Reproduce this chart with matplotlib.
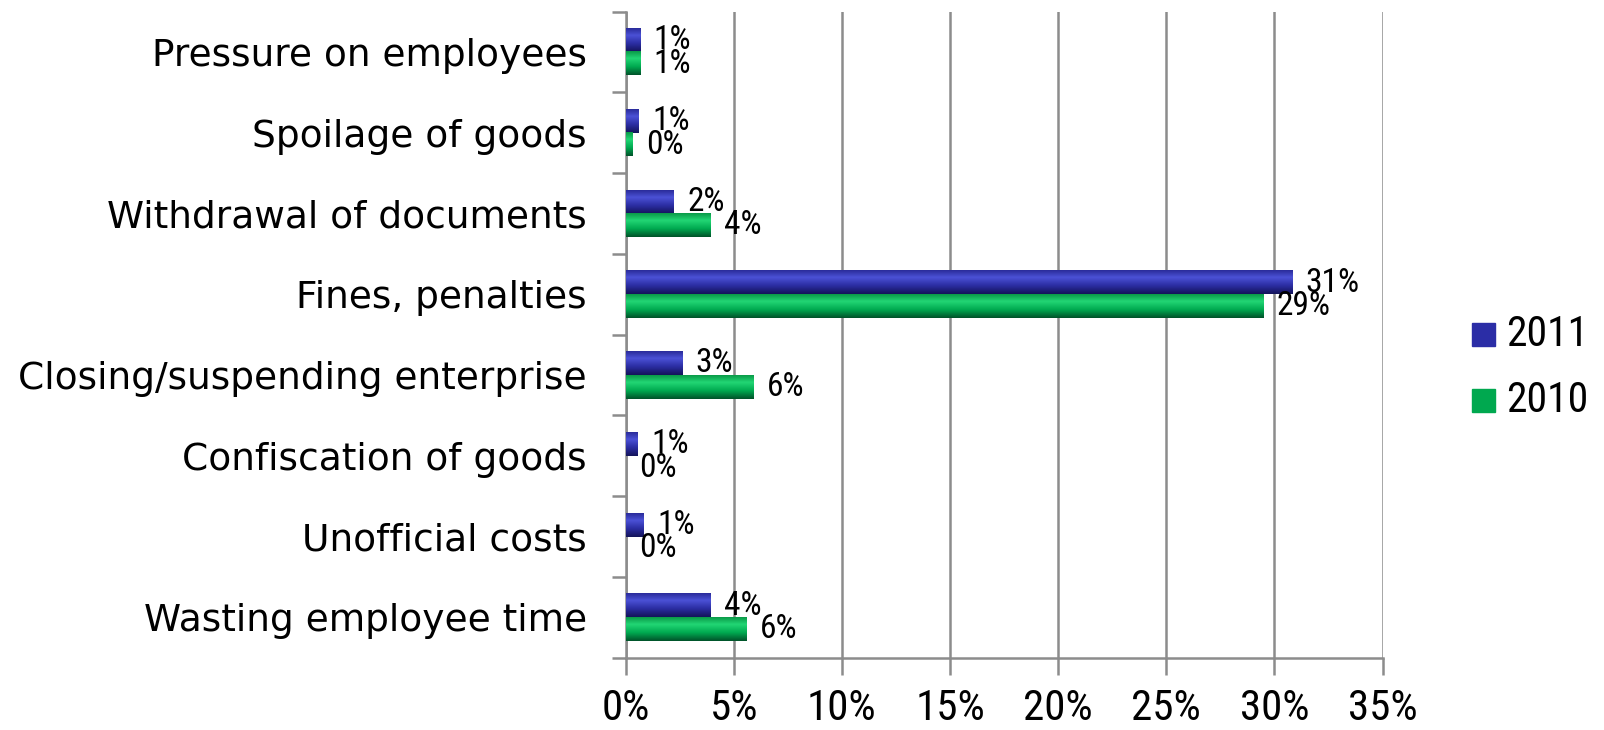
import numpy as np
import matplotlib
matplotlib.use("Agg")
import matplotlib.pyplot as plt
from matplotlib import font_manager as fm
from matplotlib.colors import LinearSegmentedColormap
from matplotlib.patches import Rectangle

categories = [
    "Pressure on employees",
    "Spoilage of goods",
    "Withdrawal of documents",
    "Fines, penalties",
    "Closing/suspending enterprise",
    "Confiscation of goods",
    "Unofficial costs",
    "Wasting employee time",
]
vals_2011 = [0.65, 0.6, 2.2, 30.8, 2.6, 0.55, 0.83, 3.9]
vals_2010 = [0.65, 0.3, 3.9, 29.45, 5.9, 0.0, 0.0, 5.55]
x_ticks = [0, 5, 10, 15, 20, 25, 30, 35]
series_names = ["2011", "2010"]
series_colors = ["#2b2da6", "#00a84f"]

# pick a condensed face for the numbers if one is installed
fonts = fm.fontManager.ttflist
names = {f.name for f in fonts}
narrow = {"family": ["DejaVu Sans"]}
condensed_ok = False
for cand in ["Liberation Sans Narrow", "Roboto Condensed", "Open Sans Condensed"]:
    if cand in names:
        narrow = {"family": [cand, "DejaVu Sans"]}
        condensed_ok = True
        break
else:
    if any(f.name == "DejaVu Sans" and f.stretch == "condensed" for f in fonts):
        narrow = {"family": ["DejaVu Sans"], "fontstretch": "condensed"}
        condensed_ok = True

blue_cmap = LinearSegmentedColormap.from_list(
    "blue_bar", [(0, "#2a2c9a"), (0.3, "#4b51d6"), (0.65, "#2b2da2"), (1, "#14145a")])
green_cmap = LinearSegmentedColormap.from_list(
    "green_bar", [(0, "#0a9a48"), (0.3, "#22d674"), (0.65, "#00aa50"), (1, "#00532a")])

W, H = 1604, 730
fig = plt.figure(figsize=(W / 100, H / 100), dpi=100)
ax = fig.add_axes([0.390, 0.099, 0.472, 0.885])

n = len(categories)
pos = np.arange(n)[::-1].astype(float)
h = 0.29

gradient = np.linspace(0, 1, 64).reshape(-1, 1)
label_size = 24 if condensed_ok else 19


def draw_series(values, offset, cmap, color):
    bars = ax.barh(pos + offset, values, height=h, color=color, zorder=2)
    for b, v in zip(bars, values):
        if v > 0:
            x0, y0 = b.get_x(), b.get_y()
            ax.imshow(gradient, cmap=cmap, aspect="auto", origin="upper",
                      extent=(x0, x0 + b.get_width(), y0, y0 + b.get_height()),
                      zorder=3, interpolation="bilinear")
        ax.annotate(f"{v:.0f}%", (v, b.get_y() + b.get_height() / 2),
                    xytext=(10, 0), textcoords="offset points",
                    ha="left", va="center", fontsize=label_size, zorder=4, **narrow)


draw_series(vals_2011, h / 2, blue_cmap, "#2b2da2")
draw_series(vals_2010, -h / 2, green_cmap, "#00aa50")

ax.set_xlim(0, 35)
ax.set_ylim(-0.5, n - 0.5)
ax.set_xticks(x_ticks)
ax.set_xticklabels([f"{t}%" for t in x_ticks], fontsize=31 if condensed_ok else 24, **narrow)
ax.set_yticks(pos)
ax.set_yticklabels(categories, fontsize=27)
ax.set_yticks(np.arange(n + 1) - 0.5, minor=True)

ax.grid(axis="x", color="#8c8c8c", linewidth=1.8, zorder=0)
ax.set_axisbelow(True)
for s in ["top", "right"]:
    ax.spines[s].set_visible(False)
for s in ["left", "bottom"]:
    ax.spines[s].set_color("#8c8c8c")
    ax.spines[s].set_linewidth(1.8)

ax.tick_params(axis="y", which="major", length=0, pad=28)
ax.tick_params(axis="y", which="minor", length=10, width=1.8, color="#8c8c8c")
ax.tick_params(axis="x", length=12, width=1.8, color="#8c8c8c", pad=10)

# legend keys drawn as squares with their labels to the right
key = 23
for i, (name, col) in enumerate(zip(series_names, series_colors)):
    cy = 334 + i * 66
    fig.patches.append(Rectangle(((1472) / W, 1 - (cy + key / 2) / H), key / W, key / H,
                                 transform=fig.transFigure, color=col))
    fig.text(1506 / W, 1 - cy / H, name, ha="left", va="center",
             fontsize=30 if condensed_ok else 20, **narrow)

fig.savefig("out.png", dpi=100)
